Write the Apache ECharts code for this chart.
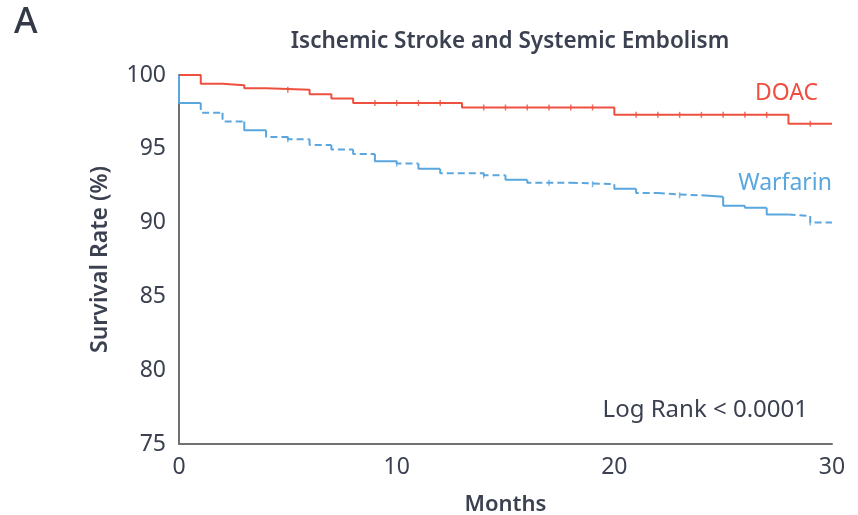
<!DOCTYPE html>
<html lang="en">
<head>
    <meta charset="UTF-8">
    <title>Ischemic Stroke and Systemic Embolism</title>
    <style>
        html, body { margin: 0; padding: 0; background: #fff; }
        #container { width: 858px; height: 515px; }
    </style>
</head>
<body>
    <div id="container"></div>
    <script src="https://cdn.jsdelivr.net/npm/echarts@6/dist/echarts.min.js"></script>
    <script>
        // Kaplan-Meier steps (months, survival %)
        var doacTimes = [0, 1, 2, 3, 4, 6, 7, 8, 13, 20, 28, 30];
        var doacSurv = [100, 99.4, 99.3, 99.1, 99.0, 98.7, 98.4, 98.1, 97.8, 97.3, 96.7, 96.7];
        var doacCensor = [5, 9, 10, 11, 12, 14, 15, 16, 17, 18, 19, 21, 22, 23, 24, 25, 26, 27, 29];

        var warfTimes = [0, 0, 1, 2, 3, 4, 5, 6, 7, 8, 9, 10, 11, 12, 14, 15, 16, 18, 20, 21, 22, 23, 24, 25, 26, 27, 28, 29];
        var warfSurv = [100, 98.1, 97.45, 96.85, 96.25, 95.8, 95.65, 95.25, 94.95, 94.65, 94.15, 94.0, 93.65, 93.35, 93.2, 92.9, 92.7, 92.6, 92.3, 92.0, 91.9, 91.85, 91.75, 91.15, 91.0, 90.55, 90.45, 90.0];
        // s = solid interval, d = dashed interval (as drawn in the figure)
        var warfStyle = ['s', 's', 'd', 'd', 's', 'd', 'd', 'd', 'd', 'd', 's', 'd', 's', 'd', 'd', 's', 'd', 'd', 's', 'd', 'd', 'd', 's', 's', 's', 's', 'd', 'd'];
        var warfCensor = [5, 10, 14, 17, 19, 23, 29];
        var endMonth = 30;

        var xTicks = [0, 10, 20, 30];
        var yTicks = [75, 80, 85, 90, 95, 100];

        var red = '#ee5040';
        var blue = '#5aa6de';
        var textColor = '#3b4150';

        function stepPairs(times, surv) {
            return times.map(function (t, i) { return [t, surv[i]]; });
        }

        // value of a step curve at time t
        function survAt(times, surv, t) {
            var v = surv[0];
            for (var i = 0; i < times.length; i++) {
                if (times[i] <= t) v = surv[i];
            }
            return v;
        }

        // split warfarin into solid / dashed polylines
        var warfSolid = [], warfDashed = [];
        for (var i = 0; i < warfTimes.length; i++) {
            var t0 = warfTimes[i];
            var t1 = i + 1 < warfTimes.length ? warfTimes[i + 1] : endMonth;
            var prev = i > 0 ? warfSurv[i - 1] : warfSurv[i];
            var target = warfStyle[i] === 's' ? warfSolid : warfDashed;
            target.push([t0, prev], [t0, warfSurv[i]], [t1, warfSurv[i]], '-');
        }

        var ec = echarts.init(document.getElementById('container'));

        var option = {
            backgroundColor: '#fff',
            animation: false,
            title: {
                text: 'Ischemic Stroke and Systemic Embolism',
                left: 505,
                top: 25,
                textAlign: 'center',
                textStyle: {
                    fontFamily: 'Noto Sans',
                    fontSize: 22.5,
                    fontWeight: 600,
                    color: textColor
                }
            },
            graphic: [
                { type: 'text', left: 14, top: 5, style: { text: 'A', font: '500 36px "Noto Sans"', fill: '#333a45' } },
                { type: 'text', right: 40, top: 82, style: { text: 'DOAC', font: '23px "Noto Sans"', fill: red } },
                { type: 'text', right: 26, top: 172, style: { text: 'Warfarin', font: '23px "Noto Sans"', fill: blue } },
                { type: 'text', right: 50, top: 398, style: { text: 'Log Rank < 0.0001', font: '24px "Noto Sans"', fill: textColor } }
            ],
            grid: { left: 179, right: 26, top: 75, bottom: 71, outerBoundsMode: 'none' },
            xAxis: {
                type: 'value',
                min: 0,
                max: 30,
                interval: 10,
                name: 'Months',
                nameLocation: 'middle',
                nameGap: 50,
                nameTextStyle: { fontFamily: 'Noto Sans', fontSize: 22, fontWeight: 600, color: textColor },
                axisLine: { lineStyle: { color: '#707070', width: 2 } },
                axisTick: { show: false },
                splitLine: { show: false },
                axisLabel: {
                    margin: 12,
                    fontFamily: 'Noto Sans',
                    fontSize: 23,
                    color: textColor,
                    formatter: function (v) { return xTicks.indexOf(v) >= 0 ? String(v) : ''; }
                }
            },
            yAxis: {
                type: 'value',
                min: 75,
                max: 100,
                interval: 5,
                name: 'Survival Rate (%)',
                nameLocation: 'middle',
                nameGap: 67,
                nameTextStyle: { fontFamily: 'Noto Sans', fontSize: 23, fontWeight: 600, color: textColor },
                axisLine: { show: true, lineStyle: { color: '#707070', width: 2 } },
                axisTick: { show: false },
                splitLine: { show: false },
                axisLabel: {
                    margin: 13,
                    fontFamily: 'Noto Sans',
                    fontSize: 23,
                    color: textColor,
                    formatter: function (v) { return yTicks.indexOf(v) >= 0 ? String(v) : ''; }
                }
            },
            series: [
                {
                    name: 'Warfarin solid',
                    type: 'line',
                    data: warfSolid,
                    showSymbol: false,
                    connectNulls: false,
                    lineStyle: { color: blue, width: 2 },
                    z: 2
                },
                {
                    name: 'Warfarin dashed',
                    type: 'line',
                    data: warfDashed,
                    showSymbol: false,
                    connectNulls: false,
                    lineStyle: { color: blue, width: 2, type: [7, 4] },
                    z: 2
                },
                {
                    name: 'Warfarin censored',
                    type: 'scatter',
                    symbol: 'rect',
                    symbolSize: [1.5, 6],
                    itemStyle: { color: blue },
                    data: warfCensor.map(function (t) { return [t, survAt(warfTimes, warfSurv, t)]; }),
                    z: 2
                },
                {
                    name: 'DOAC',
                    type: 'line',
                    step: 'end',
                    data: stepPairs(doacTimes, doacSurv),
                    showSymbol: false,
                    lineStyle: { color: red, width: 2 },
                    z: 3
                },
                {
                    name: 'DOAC censored',
                    type: 'scatter',
                    symbol: 'rect',
                    symbolSize: [1.5, 6],
                    itemStyle: { color: red },
                    data: doacCensor.map(function (t) { return [t, survAt(doacTimes, doacSurv, t)]; }),
                    z: 3
                }
            ]
        };

        ec.setOption(option);
    </script>
</body>
</html>
